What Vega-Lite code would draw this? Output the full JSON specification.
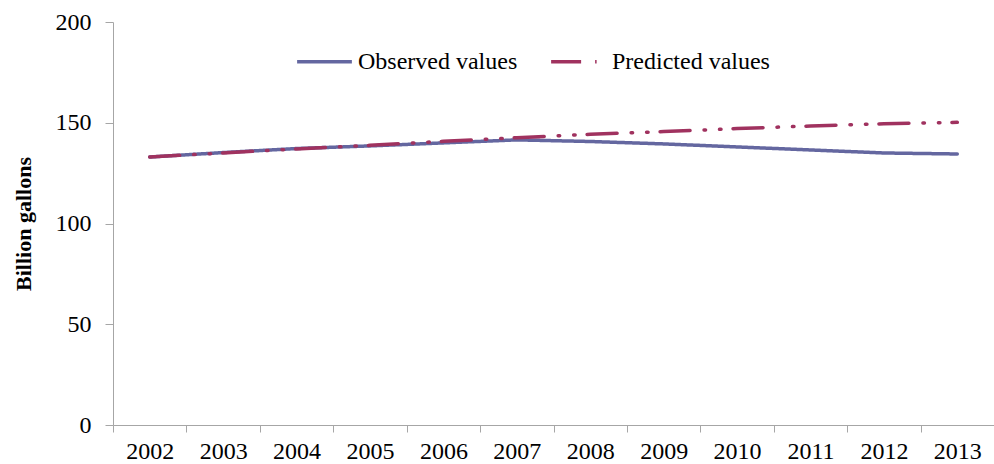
{
  "$schema": "https://vega.github.io/schema/vega-lite/v6.json",
  "autosize": {"type": "none"},
  "padding": {"left": 113, "top": 22, "right": 0, "bottom": 39},
  "width": 881,
  "height": 403,
  "background": "white",
  "data": {
    "values": [
      {"year": "2002", "series": "Observed values", "value": 133.0},
      {"year": "2003", "series": "Observed values", "value": 135.2},
      {"year": "2004", "series": "Observed values", "value": 137.2},
      {"year": "2005", "series": "Observed values", "value": 138.5},
      {"year": "2006", "series": "Observed values", "value": 140.0},
      {"year": "2007", "series": "Observed values", "value": 141.5},
      {"year": "2008", "series": "Observed values", "value": 140.7},
      {"year": "2009", "series": "Observed values", "value": 139.5},
      {"year": "2010", "series": "Observed values", "value": 138.0},
      {"year": "2011", "series": "Observed values", "value": 136.5},
      {"year": "2012", "series": "Observed values", "value": 135.0},
      {"year": "2013", "series": "Observed values", "value": 134.5},
      {"year": "2002", "series": "Predicted values", "value": 133.0},
      {"year": "2003", "series": "Predicted values", "value": 135.0},
      {"year": "2004", "series": "Predicted values", "value": 137.0},
      {"year": "2005", "series": "Predicted values", "value": 138.8},
      {"year": "2006", "series": "Predicted values", "value": 140.8},
      {"year": "2007", "series": "Predicted values", "value": 142.6},
      {"year": "2008", "series": "Predicted values", "value": 144.3},
      {"year": "2009", "series": "Predicted values", "value": 145.6},
      {"year": "2010", "series": "Predicted values", "value": 147.1},
      {"year": "2011", "series": "Predicted values", "value": 148.4},
      {"year": "2012", "series": "Predicted values", "value": 149.5},
      {"year": "2013", "series": "Predicted values", "value": 150.2}
    ]
  },
  "mark": {"type": "line", "strokeWidth": 3.5, "strokeCap": "round"},
  "encoding": {
    "x": {
      "field": "year",
      "type": "ordinal",
      "scale": {"type": "band", "paddingInner": 0, "paddingOuter": 0},
      "axis": {
        "title": null,
        "labelAngle": 0,
        "tickBand": "extent",
        "tickSize": 7,
        "labelPadding": 7,
        "labelFont": "Liberation Serif",
        "labelFontSize": 24,
        "labelColor": "#000000",
        "domainColor": "#a6a6a6",
        "tickColor": "#a6a6a6",
        "grid": false
      }
    },
    "y": {
      "field": "value",
      "type": "quantitative",
      "scale": {"domain": [0, 200], "nice": false},
      "axis": {
        "title": "Billion gallons",
        "values": [0, 50, 100, 150, 200],
        "tickSize": 8,
        "labelPadding": 14,
        "labelFont": "Liberation Serif",
        "labelFontSize": 24,
        "labelColor": "#000000",
        "titleFont": "Liberation Serif",
        "titleFontSize": 22,
        "titleFontWeight": "bold",
        "titleColor": "#000000",
        "titlePadding": 20,
        "domainColor": "#a6a6a6",
        "tickColor": "#a6a6a6",
        "grid": false
      }
    },
    "color": {
      "field": "series",
      "type": "nominal",
      "scale": {"domain": ["Observed values", "Predicted values"], "range": ["#6467a0", "#a0325f"]},
      "legend": {
        "title": null,
        "orient": "none",
        "legendX": 182,
        "legendY": 10,
        "direction": "horizontal",
        "symbolType": "stroke",
        "symbolSize": 3000,
        "symbolStrokeWidth": 3.5,
        "labelFont": "Liberation Serif",
        "labelFontSize": 24,
        "labelColor": "#000000",
        "labelOffset": 4,
        "columnPadding": 26,
        "labelLimit": 300
      }
    },
    "strokeDash": {
      "field": "series",
      "type": "nominal",
      "scale": {"domain": ["Observed values", "Predicted values"], "range": [[1, 0], [30, 14, 1.5, 14, 1.5, 12]]},
      "legend": {
        "title": null,
        "orient": "none",
        "legendX": 182,
        "legendY": 10,
        "direction": "horizontal",
        "symbolType": "stroke",
        "symbolSize": 3000,
        "symbolStrokeWidth": 3.5,
        "labelFont": "Liberation Serif",
        "labelFontSize": 24,
        "labelColor": "#000000",
        "labelOffset": 4,
        "columnPadding": 26,
        "labelLimit": 300
      }
    }
  },
  "config": {"view": {"stroke": null}}
}
